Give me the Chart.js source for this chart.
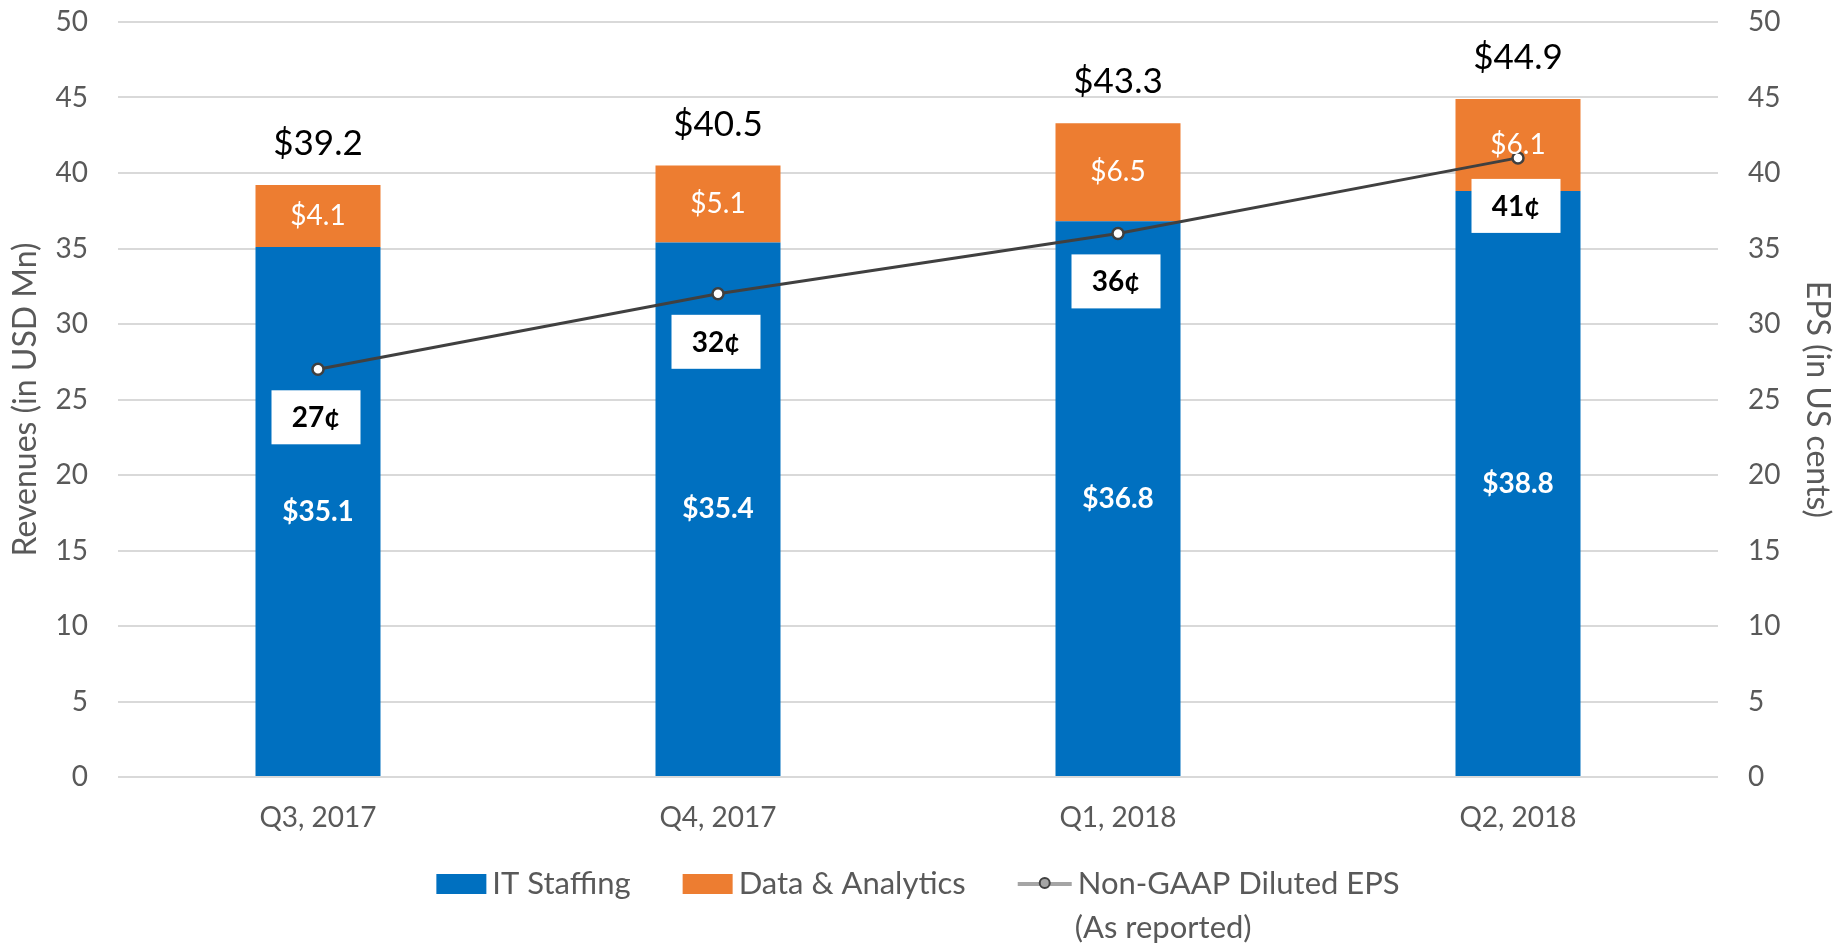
<!DOCTYPE html>
<html>
<head>
<meta charset="utf-8">
<script src="https://cdn.jsdelivr.net/npm/chart.js@4.4.1/dist/chart.umd.min.js"></script>
<style>
    html, body { margin: 0; padding: 0; background: #ffffff; }
    #wrap { width: 1837px; height: 946px; }
</style>
</head>
<body>
<div id="wrap"><canvas id="revenueChart" width="1837" height="946"></canvas></div>
<script>
const quarters = ["Q3, 2017", "Q4, 2017", "Q1, 2018", "Q2, 2018"];
const itStaffing = [35.1, 35.4, 36.8, 38.8];
const dataAnalytics = [4.1, 5.1, 6.5, 6.1];
const dilutedEps = [27, 32, 36, 41];
const axisMin = 0;
const axisMax = 50;
const axisStep = 5;

const colours = {
    blue: "#0070c0",
    orange: "#ed7d31",
    line: "#404040",
    grid: "#d9d9d9",
    text: "#595959"
};
const fontFamily = "Lato, 'Open Sans', sans-serif";

const valueLabels = {
    id: "valueLabels",
    afterDatasetsDraw(chart) {
        const ctx = chart.ctx;
        const staffMeta = chart.getDatasetMeta(0);
        const dataMeta = chart.getDatasetMeta(1);
        const epsMeta = chart.getDatasetMeta(2);

        ctx.save();
        ctx.textAlign = "center";
        ctx.textBaseline = "middle";

        staffMeta.data.forEach((bar, i) => {
            ctx.font = "bold 28px " + fontFamily;
            ctx.fillStyle = "#ffffff";
            ctx.fillText("$" + itStaffing[i].toFixed(1), bar.x, (bar.y + bar.base) / 2);
        });

        dataMeta.data.forEach((bar, i) => {
            ctx.font = "28px " + fontFamily;
            ctx.fillStyle = "#ffffff";
            ctx.fillText("$" + dataAnalytics[i].toFixed(1), bar.x, (bar.y + bar.base) / 2);

            const total = itStaffing[i] + dataAnalytics[i];
            ctx.font = "35px " + fontFamily;
            ctx.fillStyle = "#000000";
            ctx.fillText("$" + total.toFixed(1), bar.x, bar.y - 41);
        });

        epsMeta.data.forEach((point, i) => {
            const boxX = point.x - 2;
            const boxY = point.y + 48;
            ctx.fillStyle = "#ffffff";
            ctx.fillRect(boxX - 44.5, boxY - 27, 89, 54);
            ctx.font = "bold 28px " + fontFamily;
            ctx.fillStyle = "#000000";
            ctx.fillText(dilutedEps[i] + "¢", boxX, boxY + 1);
        });

        ctx.restore();
    }
};

const bottomLegend = {
    id: "bottomLegend",
    afterDraw(chart) {
        const ctx = chart.ctx;
        const rowY = 884;
        const boxW = 50;
        const boxH = 20;
        const markW = 54;
        const textGap = 6;
        const itemGap = 52;
        const datasets = chart.data.datasets;

        ctx.save();
        ctx.font = "31px " + fontFamily;
        ctx.textBaseline = "middle";
        ctx.textAlign = "left";

        const widths = datasets.map((ds) => {
            const mark = ds.type === "line" ? markW : boxW;
            return mark + textGap + ctx.measureText(ds.label).width;
        });
        const total = widths.reduce((a, b) => a + b, 0) + itemGap * (widths.length - 1);
        let x = (chart.chartArea.left + chart.chartArea.right) / 2 - total / 2;

        datasets.forEach((ds, i) => {
            if (ds.type === "line") {
                ctx.strokeStyle = "#a5a5a5";
                ctx.lineWidth = 4;
                ctx.beginPath();
                ctx.moveTo(x, rowY);
                ctx.lineTo(x + markW, rowY);
                ctx.stroke();
                ctx.beginPath();
                ctx.arc(x + markW / 2, rowY - 1, 5, 0, Math.PI * 2);
                ctx.fillStyle = "#a5a5a5";
                ctx.fill();
                ctx.lineWidth = 2;
                ctx.strokeStyle = colours.line;
                ctx.stroke();
                ctx.fillStyle = colours.text;
                ctx.fillText(ds.label, x + markW + textGap, rowY);
                ctx.fillText("(As reported)", x + markW + textGap - 3, rowY + 44);
            } else {
                ctx.fillStyle = ds.backgroundColor;
                ctx.fillRect(x, rowY - boxH / 2, boxW, boxH);
                ctx.fillStyle = colours.text;
                ctx.fillText(ds.label, x + boxW + textGap, rowY);
            }
            x += widths[i] + itemGap;
        });

        ctx.restore();
    }
};

function fitSide(width) {
    return (scale) => {
        scale.width = width;
        scale.paddingTop = 0;
        scale.paddingBottom = 0;
    };
}

function buildChart() {
    const canvas = document.getElementById("revenueChart");

    new Chart(canvas, {
        data: {
            labels: quarters,
            datasets: [
                {
                    type: "bar",
                    label: "IT Staffing",
                    data: itStaffing,
                    backgroundColor: colours.blue,
                    yAxisID: "y",
                    order: 1
                },
                {
                    type: "bar",
                    label: "Data & Analytics",
                    data: dataAnalytics,
                    backgroundColor: colours.orange,
                    yAxisID: "y",
                    order: 1
                },
                {
                    type: "line",
                    label: "Non-GAAP Diluted EPS",
                    data: dilutedEps,
                    borderColor: colours.line,
                    borderWidth: 3,
                    pointRadius: 5.5,
                    pointBackgroundColor: "#ffffff",
                    pointBorderColor: colours.line,
                    pointBorderWidth: 2.5,
                    tension: 0,
                    yAxisID: "y1",
                    order: 0
                }
            ]
        },
        options: {
            responsive: false,
            animation: false,
            layout: { padding: { top: 22, left: 0, right: 0, bottom: 0 } },
            datasets: {
                bar: {
                    categoryPercentage: 1,
                    barPercentage: 0.3125
                }
            },
            plugins: {
                legend: { display: false },
                tooltip: { enabled: false }
            },
            scales: {
                x: {
                    stacked: true,
                    grid: { display: false },
                    border: { display: false },
                    ticks: {
                        color: colours.text,
                        font: { family: fontFamily, size: 28 },
                        padding: 16,
                        maxRotation: 0
                    },
                    afterFit(scale) {
                        scale.height = 169;
                    }
                },
                y: {
                    stacked: true,
                    position: "left",
                    min: axisMin,
                    max: axisMax,
                    grid: { color: colours.grid, lineWidth: 2, drawTicks: false },
                    border: { display: false },
                    ticks: {
                        stepSize: axisStep,
                        color: colours.text,
                        font: { family: fontFamily, size: 28 },
                        padding: 30
                    },
                    title: {
                        display: true,
                        text: "Revenues (in USD Mn)",
                        color: colours.text,
                        font: { family: fontFamily, size: 32 },
                        padding: { top: 6, bottom: 0 }
                    },
                    afterFit: fitSide(118)
                },
                y1: {
                    position: "right",
                    min: axisMin,
                    max: axisMax,
                    grid: { display: false, drawTicks: false },
                    border: { display: false },
                    ticks: {
                        stepSize: axisStep,
                        color: colours.text,
                        font: { family: fontFamily, size: 28 },
                        padding: 30
                    },
                    title: {
                        display: true,
                        text: "EPS (in US cents)",
                        color: colours.text,
                        font: { family: fontFamily, size: 32 },
                        padding: { top: 0, bottom: 0 }
                    },
                    afterFit: fitSide(119)
                }
            }
        },
        plugins: [valueLabels, bottomLegend]
    });
}

if (document.fonts && document.fonts.load) {
    Promise.all([
        document.fonts.load("28px Lato"),
        document.fonts.load("bold 28px Lato")
    ]).then(buildChart, buildChart);
} else {
    buildChart();
}
</script>
</body>
</html>
